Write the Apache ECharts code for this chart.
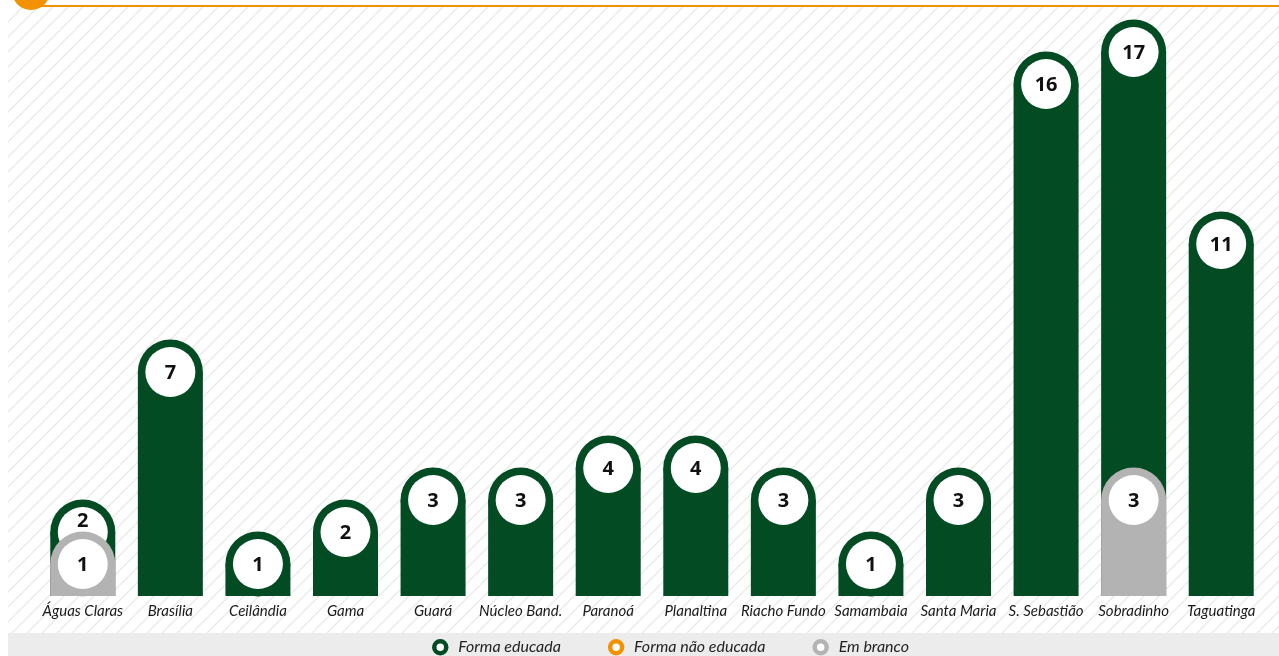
<!DOCTYPE html>
<html><head><meta charset="utf-8">
<script src="https://cdn.jsdelivr.net/npm/echarts@6/dist/echarts.min.js"></script>
<style>html,body{margin:0;padding:0;background:#fff}#c{width:1279px;height:656px}</style>
</head><body><div id="c"></div>
<script>
const categories = ['Águas Claras','Brasília','Ceilândia','Gama','Guará','Núcleo Band.','Paranoá','Planaltina','Riacho Fundo','Samambaia','Santa Maria','S. Sebastião','Sobradinho','Taguatinga'];
const formaEducada   = [2,7,1,2,3,3,4,4,3,1,3,16,17,11];
const formaNaoEducada= [0,0,0,0,0,0,0,0,0,0,0,0,0,0];
const emBranco       = [1,0,0,0,0,0,0,0,0,0,0,0,3,0];
const seriesNames = ['Forma educada','Forma não educada','Em branco'];
const colors = ['#034b23','#f39200','#b3b3b3'];
const seriesData = [formaEducada, formaNaoEducada, emBranco];

// hatch pattern
const pc = document.createElement('canvas');
const S = 15; pc.width = S; pc.height = S;
const pctx = pc.getContext('2d');
pctx.fillStyle = '#ffffff'; pctx.fillRect(0,0,S,S);
pctx.strokeStyle = '#e9e9e9'; pctx.lineWidth = 1.3;
for (const k of [-S,0,S]) { pctx.beginPath(); pctx.moveTo(k, S); pctx.lineTo(k+S, 0); pctx.stroke(); }

const BW = 65, R = BW/2, WR = 25;
function makeRender(si){
  const color = colors[si];
  return function(params, api){
    const v = api.value(1);
    if (!v) return null;
    const j = api.value(0);
    const base = api.coord([j, 0]);
    const top = api.coord([j, v]);
    const cx = base[0];
    let ty = top[1] + 1;
    // if a later series covers the lower part of this label, move text into the visible part
    for (let k = si+1; k < seriesData.length; k++) {
      const vk = seriesData[k][j];
      if (vk && vk < v) {
        const capTop = api.coord([j, vk])[1] - R;
        const wTop = top[1] - WR;
        if (capTop < top[1] + 10 && capTop > wTop) ty = (wTop + capTop)/2 + 2;
      }
    }
    return {
      type: 'group',
      children: [
        {type:'rect', shape:{x:cx-R, y:top[1], width:BW, height:base[1]-top[1]}, style:{fill:color}},
        {type:'circle', shape:{cx:cx, cy:top[1], r:R}, style:{fill:color}},
        {type:'circle', shape:{cx:cx, cy:top[1], r:WR}, style:{fill:'#ffffff'}},
        {type:'text', x:cx, y:ty, style:{text:String(v), fill:'#111', font:'bold 20px "Open Sans", sans-serif', align:'center', verticalAlign:'middle'}}
      ]
    };
  };
}
const chart = echarts.init(document.getElementById('c'));
chart.setOption({
  animation:false,
  backgroundColor:'#ffffff',
  graphic:[
    {type:'rect', z:-10, shape:{x:8,y:7,width:1271,height:626}, style:{fill:{image:pc, repeat:'repeat'}}},
    {type:'rect', z:-10, shape:{x:8,y:633,width:1271,height:23}, style:{fill:'#ececec'}},
    {type:'rect', z:-9, shape:{x:40,y:5,width:1239,height:2}, style:{fill:'#f39200'}},
    {type:'circle', z:-8, shape:{cx:31,cy:-9,r:19}, style:{fill:'#f39200'}}
  ],
  legend:{
    top:634, left:427, itemWidth:12, itemHeight:12, itemGap:47,
    textStyle:{fontFamily:'Lato', fontStyle:'italic', fontSize:16, color:'#222', padding:[0,0,0,7]},
    data: seriesNames.map((n,i)=>({name:n, icon:'circle', itemStyle:{color:'#ffffff', borderColor:colors[i], borderWidth:4.5}}))
  },
  grid:{left:39, right:14, top:20, bottom:60},
  xAxis:{type:'category', data:categories, axisLine:{show:false}, axisTick:{show:false},
    axisLabel:{margin:8, fontFamily:'Lato', fontStyle:'italic', fontSize:15, color:'#1a1a1a', interval:0}},
  yAxis:{type:'value', min:0, max:18, show:false, splitLine:{show:false}},
  series: seriesNames.map((n,i)=>({
    name:n, type:'custom', renderItem: makeRender(i), itemStyle:{color:colors[i]},
    encode:{x:0, y:1},
    data: seriesData[i].map((v,j)=>[j, v])
  }))
});
</script></body></html>
